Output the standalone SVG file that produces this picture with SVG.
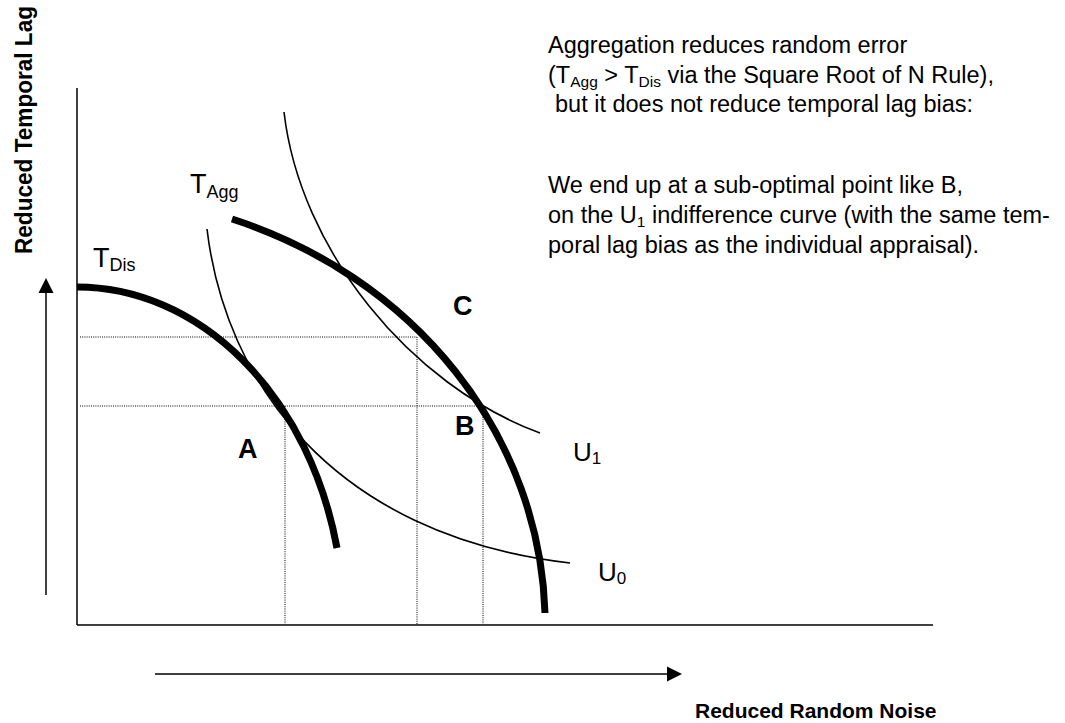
<svg xmlns="http://www.w3.org/2000/svg" width="1065" height="723" viewBox="0 0 1065 723">
<style>
.axis{stroke:#000;stroke-width:1.5;fill:none}
.thick{stroke:#000;stroke-width:7;fill:none}
.thin{stroke:#000;stroke-width:1.6;fill:none}
.dot{stroke:#000;stroke-width:1;stroke-dasharray:1 1.2;fill:none}
.lbl{font-family:"Liberation Sans",Arial,sans-serif;fill:#000}
.b{font-weight:bold}
.para{font-family:"Liberation Sans",Arial,sans-serif;font-size:23.5px;fill:#000}
</style>
<rect width="1065" height="723" fill="#fff"/>
<g id="axes">
<line class="axis" x1="77" y1="88" x2="77" y2="625"/>
<line class="axis" x1="77" y1="625" x2="933" y2="625"/>
</g>
<g id="direction-arrows">
<line class="axis" x1="46" y1="595" x2="46" y2="292"/>
<polygon points="46,278 38.5,293 53.5,293" fill="#000"/>
<line class="axis" x1="155" y1="674" x2="668" y2="674"/>
<polygon points="682,674 667,666.5 667,681.5" fill="#000"/>
</g>
<g id="guides">
<line class="dot" x1="80" y1="337" x2="417" y2="337"/>
<line class="dot" x1="80" y1="406" x2="483" y2="406"/>
<line class="dot" x1="285" y1="406" x2="285" y2="624"/>
<line class="dot" x1="417" y1="337" x2="417" y2="624"/>
<line class="dot" x1="483" y1="406" x2="483" y2="624"/>
</g>
<g id="T_Dis">
<path class="thick" d="M77,287 A267,338 0 0 1 337,548"/>
<text class="lbl" x="93" y="267" font-size="27">T<tspan font-size="18" dy="4">Dis</tspan></text>
</g>
<g id="T_Agg">
<path class="thick" d="M232,219 A468,430 0 0 1 545,613"/>
<text class="lbl" x="190" y="193" font-size="27">T<tspan font-size="18" dy="5">Agg</tspan></text>
</g>
<g id="U1">
<path class="thin" d="M284,112 C300,250 410,385 540,433"/>
<text class="lbl" x="573" y="461" font-size="26">U<tspan font-size="17" dy="3">1</tspan></text>
</g>
<g id="U0">
<path class="thin" d="M207,229 C225,380 330,535 570,563"/>
<text class="lbl" x="598" y="581" font-size="26">U<tspan font-size="17" dy="3">0</tspan></text>
</g>
<g id="points">
<text class="lbl b" x="238" y="458" font-size="27">A</text>
<text class="lbl b" x="455" y="435" font-size="27">B</text>
<text class="lbl b" x="453" y="315" font-size="27">C</text>
</g>
<g id="axis-labels">
<text class="lbl b" transform="translate(32,130) rotate(-90)" text-anchor="middle" font-size="23" textLength="248" lengthAdjust="spacingAndGlyphs">Reduced Temporal Lag</text>
<text class="lbl b" x="695" y="718" font-size="21">Reduced Random Noise</text>
</g>
<g id="note">
<text class="para" x="548" y="53">Aggregation reduces random error</text>
<text class="para" x="548" y="83">(T<tspan font-size="15.5" dy="4">Agg</tspan><tspan dy="-4"> &gt; T</tspan><tspan font-size="15.5" dy="4">Dis</tspan><tspan dy="-4"> via the Square Root of N Rule),</tspan></text>
<text class="para" x="555" y="112">but it does not reduce temporal lag bias:</text>
<text class="para" x="548" y="193">We end up at a sub-optimal point like B,</text>
<text class="para" x="548" y="223">on the U<tspan font-size="15.5" dy="4">1</tspan><tspan dy="-4"> indifference curve (with the same tem-</tspan></text>
<text class="para" x="548" y="253">poral lag bias as the individual appraisal).</text>
</g>
</svg>
